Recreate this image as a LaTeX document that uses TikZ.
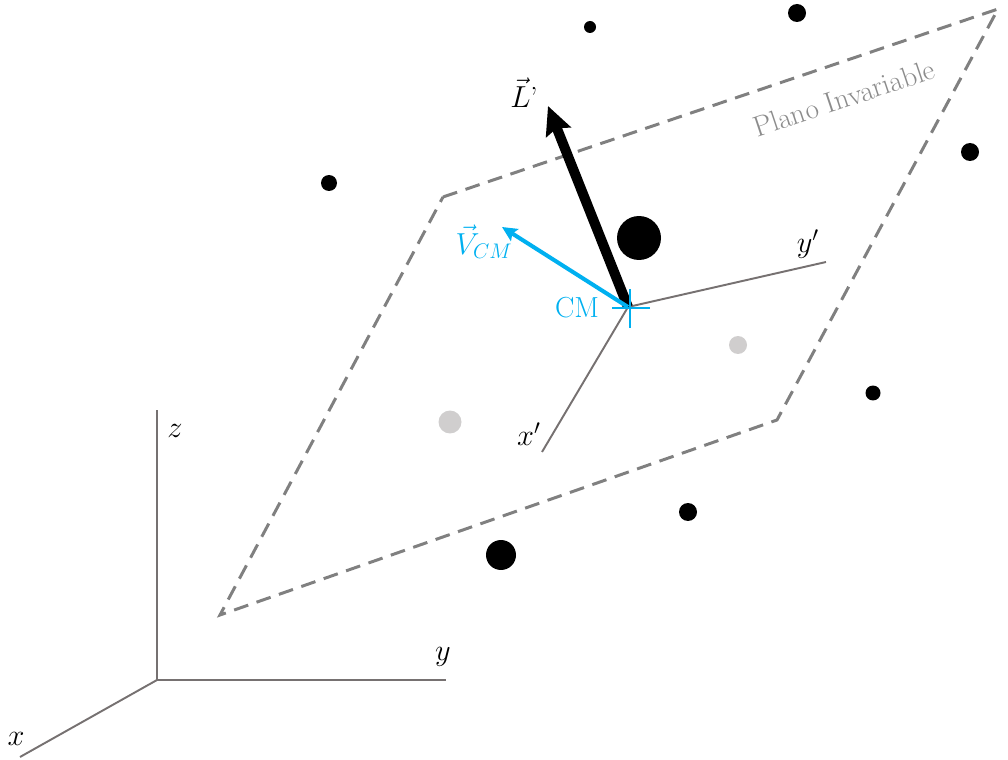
\documentclass[tikz,border=0pt]{standalone}
\usepackage{amsmath}
\usetikzlibrary{arrows.meta}
\definecolor{cmcyan}{HTML}{00B0F0}
\definecolor{ejegris}{HTML}{767171}
\definecolor{planogris}{HTML}{808080}
\definecolor{textogris}{HTML}{8C8C8C}
\definecolor{masagris}{HTML}{D0CECE}

\begin{document}
\begin{tikzpicture}[x=0.02cm, y=-0.02cm, >=Stealth, font=\fontsize{16.5}{19}\selectfont,
    eje/.style={draw=ejegris, line width=1.1pt},
    plano/.style={draw=planogris, line width=1.7pt, dash pattern=on 8.5pt off 5pt},
    masa/.style={circle, fill=black, inner sep=0pt, minimum size=#1},
    masaclara/.style={circle, fill=masagris, inner sep=0pt, minimum size=#1}]
    \useasboundingbox (0,0) rectangle (1008,760);

    % Plano invariable
    \coordinate (p1) at (443,197);
    \coordinate (p2) at (998,9);
    \coordinate (p3) at (777,420);
    \coordinate (p4) at (220,615);
    \draw[plano] (p1) -- (p2) -- (p3) -- (p4) -- cycle;
    \node[textogris, rotate=18.5] (plano) at (844,98) {Plano Invariable};

    % Ejes fijos
    \coordinate (O) at (157,680);
    \coordinate (zfin) at (157,410);
    \coordinate (yfin) at (446,680);
    \coordinate (xfin) at (20,757);
    \draw[eje] (zfin) -- (O) -- (yfin);
    \draw[eje] (O) -- (xfin);
    \node (zlab) at (175,431) {$z$};
    \node (ylab) at (443,657) {$y$};
    \node (xlab) at (16,739) {$x$};

    % Ejes del centro de masa
    \coordinate (CM) at (628,307);
    \coordinate (xpfin) at (542,452);
    \coordinate (ypfin) at (826,262);
    \draw[eje] (CM) -- (xpfin);
    \draw[eje] (CM) -- (ypfin);
    \node (xplab) at (529,434) {$x'$};
    \node (yplab) at (808,244) {$y'$};

    % Masas
    \node[masa=0.24cm] (m1) at (590,27) {};
    \node[masa=0.36cm] (m2) at (797,13) {};
    \node[masa=0.32cm] (m3) at (329,183) {};
    \node[masa=0.36cm] (m4) at (970,152) {};
    \node[masa=0.88cm] (m5) at (639,238) {};
    \node[masa=0.30cm] (m6) at (873,393) {};
    \node[masa=0.36cm] (m7) at (688,512) {};
    \node[masa=0.60cm] (m8) at (501,555) {};
    \node[masaclara=0.36cm] (m9) at (738,345) {};
    \node[masaclara=0.46cm] (m10) at (450,422) {};

    % Vectores
    \coordinate (Ltip) at (548,106);
    \coordinate (Vtip) at (502,227);
    \draw[-{Stealth[length=16pt, width=15pt, inset=2.5pt]}, line width=5.7pt] (CM) -- (Ltip);
    \draw[-{Stealth[length=8.5pt, width=8pt, inset=1.5pt]}, cmcyan, line width=2.3pt] (CM) -- (Vtip);
    \node (Llab) at (524,93) {$\vec{L}$'};
    \node[cmcyan] (Vlab) at (484,242) {$\vec{V}_{CM}$};

    % Cruz del CM
    \draw[cmcyan, line width=1.5pt] (612,308) -- (650,308);
    \draw[cmcyan, line width=1.5pt] (630,289) -- (630,328);
    \node[cmcyan] (CMlab) at (577,308) {CM};
\end{tikzpicture}
\end{document}
